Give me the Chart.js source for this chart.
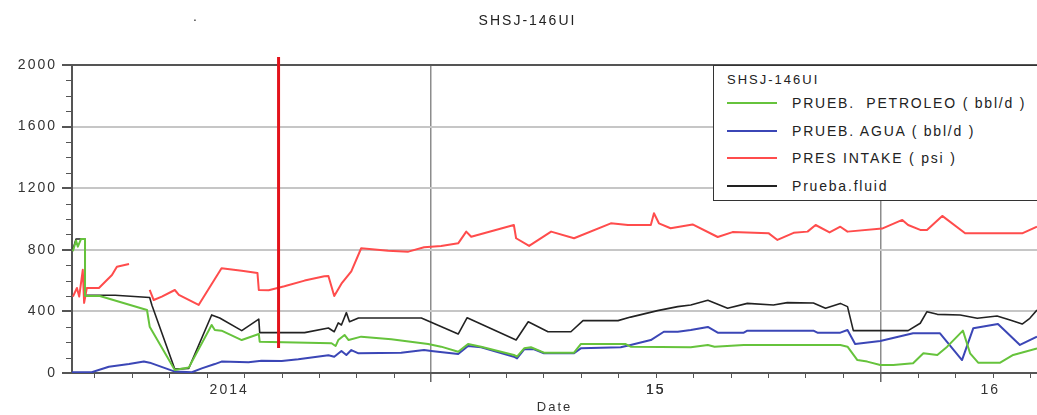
<!DOCTYPE html>
<html>
<head>
<meta charset="utf-8">
<script src="https://cdn.jsdelivr.net/npm/chart.js@4.4.1/dist/chart.umd.min.js"></script>
<style>
  html, body { margin: 0; padding: 0; background: #fff; overflow: hidden; }
  #marco { position: relative; width: 1037px; height: 415px; overflow: hidden; }
  canvas { position: absolute; left: 0; top: 0; }
  #punto { position: absolute; left: 193px; top: 8px; font: 14px "Liberation Sans", Arial, sans-serif; color: #333; line-height: 16px; }
  #leyenda {
    position: absolute; left: 713px; top: 65px; width: 360px; height: 134px;
    border: 1.5px solid #333; background: #fff; box-sizing: content-box;
    font-family: "Liberation Sans", Arial, sans-serif; color: #222;
  }
  #leyenda .titulo { position: absolute; left: 13px; top: 5px; font-size: 13px; line-height: 18px; letter-spacing: 2px; }
  #leyenda .fila { position: absolute; left: 0; height: 20px; width: 100%; }
  #leyenda .muestra { position: absolute; left: 13px; top: 9px; width: 50px; height: 2px; }
  #leyenda .texto { position: absolute; left: 78px; top: 1px; font-size: 14px; line-height: 18px; letter-spacing: 1.8px; white-space: pre; }
</style>
</head>
<body>
<div id="marco">
  <canvas id="grafico" width="1037" height="415"></canvas>
  <span id="punto">.</span>
  <div id="leyenda"></div>
</div>
<script>
// Fechas en años decimales (2015.0 = 1 de enero de 2015)
const tituloPozo = 'SHSJ-146UI';
const nombresSeries = ['PRUEB.  PETROLEO ( bbl/d )', 'PRUEB. AGUA ( bbl/d )', 'PRES INTAKE ( psi )', 'Prueba.fluid'];
const coloresSeries = ['#66c33c', '#3b46b6', '#ff4c4c', '#222222'];

const etiquetasX = ['2014', '15', '16'];
const posicionEtiquetasX = [2014.55, 2015.5, 2016.245];
const etiquetasY = [0, 400, 800, 1200, 1600, 2000];

const fechasPetroleo = [2014.202, 2014.209, 2014.213, 2014.220, 2014.229, 2014.229, 2014.262, 2014.367, 2014.373, 2014.429,
  2014.460, 2014.511, 2014.518, 2014.533, 2014.578, 2014.616, 2014.618, 2014.778, 2014.787, 2014.793,
  2014.807, 2014.816, 2014.844, 2014.911, 2014.993, 2015.022, 2015.060, 2015.082, 2015.111, 2015.184,
  2015.191, 2015.207, 2015.222, 2015.251, 2015.318, 2015.333, 2015.433, 2015.444, 2015.578, 2015.616,
  2015.631, 2015.696, 2015.911, 2015.927, 2015.949, 2015.971, 2016.000, 2016.029, 2016.073, 2016.096,
  2016.127, 2016.149, 2016.184, 2016.200, 2016.218, 2016.267, 2016.296, 2016.349];
const petroleo = [790, 860, 820, 870, 870, 500, 500, 409, 301, 20,
  35, 312, 279, 275, 214, 253, 203, 193, 175, 214,
  247, 214, 236, 219, 188, 171, 138, 188, 171, 117,
  106, 160, 167, 132, 132, 188, 188, 171, 167, 182,
  171, 182, 182, 171, 84, 74, 52, 52, 63, 128,
  117, 171, 275, 128, 67, 67, 117, 160];

const fechasAgua = [2014.200, 2014.244, 2014.282, 2014.327, 2014.360, 2014.373, 2014.429, 2014.467, 2014.489, 2014.518,
  2014.533, 2014.593, 2014.622, 2014.667, 2014.704, 2014.771, 2014.784, 2014.800, 2014.811, 2014.822,
  2014.838, 2014.933, 2014.984, 2015.000, 2015.060, 2015.082, 2015.111, 2015.184, 2015.191, 2015.207,
  2015.229, 2015.251, 2015.318, 2015.333, 2015.422, 2015.444, 2015.489, 2015.518, 2015.549, 2015.578,
  2015.616, 2015.638, 2015.696, 2015.704, 2015.851, 2015.860, 2015.911, 2015.927, 2015.944, 2016.000,
  2016.073, 2016.133, 2016.182, 2016.207, 2016.262, 2016.311, 2016.349];
const agua = [5, 5, 41, 58, 74, 67, 9, 5, 30, 58,
  74, 70, 80, 78, 89, 115, 106, 143, 117, 149,
  128, 132, 149, 143, 123, 175, 167, 106, 95, 154,
  154, 128, 128, 160, 167, 182, 214, 268, 268, 279,
  299, 262, 262, 275, 275, 262, 262, 279, 188, 208,
  258, 258, 84, 290, 318, 182, 236];

const fechasPresion = [2014.202, 2014.211, 2014.216, 2014.224, 2014.227, 2014.233, 2014.260, 2014.289, 2014.300, 2014.327,
  2014.350, 2014.373, 2014.382, 2014.400, 2014.429, 2014.438, 2014.482, 2014.533, 2014.578, 2014.613,
  2014.616, 2014.638, 2014.673, 2014.718, 2014.762, 2014.771, 2014.784, 2014.800, 2014.822, 2014.844,
  2014.904, 2014.949, 2014.984, 2015.022, 2015.060, 2015.078, 2015.089, 2015.184, 2015.189, 2015.218,
  2015.267, 2015.318, 2015.400, 2015.438, 2015.489, 2015.496, 2015.507, 2015.533, 2015.582, 2015.638,
  2015.671, 2015.751, 2015.771, 2015.807, 2015.838, 2015.856, 2015.887, 2015.911, 2015.927, 2016.004,
  2016.049, 2016.062, 2016.089, 2016.104, 2016.138, 2016.189, 2016.316, 2016.349];
const presion = [496, 552, 496, 670, 455, 552, 552, 636, 690, 708,
  null, 539, 474, 496, 539, 507, 442, 680, 664, 650,
  539, 537, 563, 600, 628, 630, 500, 580, 660, 810,
  794, 788, 816, 825, 842, 918, 885, 961, 875, 825,
  918, 875, 972, 961, 961, 1037, 972, 940, 965, 883,
  915, 908, 864, 910, 918, 961, 913, 950, 918, 938,
  994, 961, 929, 929, 1020, 907, 907, 950];

const fechasFluido = [2014.202, 2014.209, 2014.229, 2014.229, 2014.296, 2014.373, 2014.378, 2014.429, 2014.460, 2014.511,
  2014.529, 2014.578, 2014.616, 2014.618, 2014.718, 2014.771, 2014.784, 2014.793, 2014.800, 2014.811,
  2014.818, 2014.838, 2014.978, 2015.060, 2015.080, 2015.189, 2015.216, 2015.260, 2015.311, 2015.338,
  2015.416, 2015.444, 2015.504, 2015.549, 2015.578, 2015.616, 2015.660, 2015.704, 2015.762, 2015.793,
  2015.851, 2015.878, 2015.911, 2015.927, 2015.940, 2016.062, 2016.089, 2016.104, 2016.127, 2016.178,
  2016.216, 2016.260, 2016.289, 2016.316, 2016.333, 2016.349];
const fluido = [800, 870, 870, 505, 505, 490, 440, 25, 30, 377,
  357, 275, 350, 262, 262, 292, 268, 325, 312, 392,
  333, 357, 357, 253, 359, 214, 333, 268, 268, 340,
  340, 363, 405, 431, 442, 472, 420, 452, 442, 457,
  455, 421, 452, 431, 275, 275, 323, 398, 381, 377,
  355, 370, 344, 318, 355, 409];

// Marca vertical de referencia
const fechaMarca = [2014.660, 2014.660];
const valoresMarca = [162, 2052];

const ejeXMin = 2014.2, ejeXMax = 2016.349;

function puntos(fechas, valores) {
  return fechas.map((x, i) => ({ x: x, y: valores[i] }));
}
const esAnio = v => Math.abs(v - Math.round(v)) < 1e-6;

const espaciado = {
  id: 'espaciado',
  beforeLayout(chart) { chart.ctx.letterSpacing = '2px'; },
  afterLayout(chart) {
    // título ligeramente desplazado hacia la derecha
    if (chart.titleBlock) chart.titleBlock.left += 18;
  },
  beforeDraw(chart) { chart.ctx.letterSpacing = '2px'; }
};

// Marcas menores: cada 100 en Y y cada mes en X
const marcasMenores = {
  id: 'marcasMenores',
  afterDraw(chart) {
    const { ctx, chartArea } = chart;
    const x = chart.scales.x, y = chart.scales.y;
    ctx.save();
    ctx.strokeStyle = '#555';
    ctx.lineWidth = 1;
    ctx.beginPath();
    for (let v = 100; v < 2000; v += 100) {
      if (v % 400 === 0) continue;
      const py = Math.round(y.getPixelForValue(v)) + 0.5;
      ctx.moveTo(chartArea.left - 6, py);
      ctx.lineTo(chartArea.left, py);
    }
    for (let k = 3; k <= 28; k++) {
      const v = 2014 + k / 12;
      if (esAnio(v)) continue;
      const px = Math.round(x.getPixelForValue(v)) + 0.5;
      ctx.moveTo(px, chartArea.bottom);
      ctx.lineTo(px, chartArea.bottom + 5);
    }
    ctx.stroke();
    ctx.restore();
  }
};

const fuente = '"Liberation Sans", Arial, sans-serif';

new Chart(document.getElementById('grafico'), {
  type: 'line',
  data: {
    datasets: [
      { label: 'marca', data: puntos(fechaMarca, valoresMarca), borderColor: '#e3131b', borderWidth: 3, pointRadius: 0, clip: false },
      { label: nombresSeries[0], data: puntos(fechasPetroleo, petroleo), borderColor: coloresSeries[0], borderWidth: 2, pointRadius: 0 },
      { label: nombresSeries[1], data: puntos(fechasAgua, agua), borderColor: coloresSeries[1], borderWidth: 2, pointRadius: 0 },
      { label: nombresSeries[2], data: puntos(fechasPresion, presion), borderColor: coloresSeries[2], borderWidth: 2, pointRadius: 0, spanGaps: false },
      { label: nombresSeries[3], data: puntos(fechasFluido, fluido), borderColor: coloresSeries[3], borderWidth: 1.6, pointRadius: 0 }
    ]
  },
  options: {
    responsive: false,
    devicePixelRatio: 1,
    animation: false,
    events: [],
    layout: { padding: 0 },
    elements: { line: { tension: 0, borderJoinStyle: 'round' } },
    plugins: {
      legend: { display: false },
      tooltip: { enabled: false },
      title: {
        display: true,
        text: tituloPozo,
        color: '#222',
        font: { family: fuente, size: 14, weight: 'normal', lineHeight: 1.2 },
        padding: { top: 12.6, bottom: 35.6 }
      }
    },
    scales: {
      x: {
        type: 'linear',
        min: ejeXMin,
        max: ejeXMax,
        afterFit(scale) { scale.height = 42; },
        afterBuildTicks(scale) {
          const t = [];
          for (let k = 3; k <= 28; k++) t.push({ value: 2014 + k / 12 });
          posicionEtiquetasX.forEach(v => t.push({ value: v }));
          t.sort((a, b) => a.value - b.value);
          scale.ticks = t;
        },
        ticks: {
          autoSkip: false,
          maxRotation: 0,
          padding: 0,
          color: '#333',
          font: { family: fuente, size: 14 },
          callback(value) {
            const i = posicionEtiquetasX.indexOf(value);
            return i >= 0 ? etiquetasX[i] : '';
          }
        },
        grid: {
          color: c => (c.tick && esAnio(c.tick.value)) ? '#8c8c8c' : 'rgba(0,0,0,0)',
          lineWidth: 1.5,
          tickColor: c => (c.tick && esAnio(c.tick.value)) ? '#666' : 'rgba(0,0,0,0)',
          tickLength: 9,
          drawTicks: true
        },
        border: { color: '#555', width: 2 },
        title: {
          display: true,
          text: 'Date',
          color: '#333',
          font: { family: fuente, size: 13, lineHeight: 1.2 },
          padding: { top: 0, bottom: 0 }
        }
      },
      y: {
        min: 0,
        max: 2000,
        afterFit(scale) { scale.width = 72; },
        afterBuildTicks(scale) { scale.ticks = etiquetasY.map(v => ({ value: v })); },
        ticks: {
          padding: 5,
          color: '#333',
          font: { family: fuente, size: 14 },
          callback: value => String(value)
        },
        grid: {
          color: c => {
            const v = c.tick ? c.tick.value : 0;
            if (v === 2000) return '#555';
            if (v === 0) return 'rgba(0,0,0,0)';
            return '#c6c6c6';
          },
          lineWidth: 2,
          tickColor: '#555',
          tickLength: 10
        },
        border: { color: '#555', width: 2 }
      }
    }
  },
  plugins: [espaciado, marcasMenores]
});

// Leyenda
const leyenda = document.getElementById('leyenda');
const titulo = document.createElement('div');
titulo.className = 'titulo';
titulo.textContent = tituloPozo;
leyenda.appendChild(titulo);
nombresSeries.forEach((nombre, i) => {
  const fila = document.createElement('div');
  fila.className = 'fila';
  fila.style.top = (27 + i * 27.6) + 'px';
  const muestra = document.createElement('div');
  muestra.className = 'muestra';
  muestra.style.background = coloresSeries[i];
  const texto = document.createElement('div');
  texto.className = 'texto';
  texto.textContent = nombre;
  fila.appendChild(muestra);
  fila.appendChild(texto);
  leyenda.appendChild(fila);
});
</script>
</body>
</html>
